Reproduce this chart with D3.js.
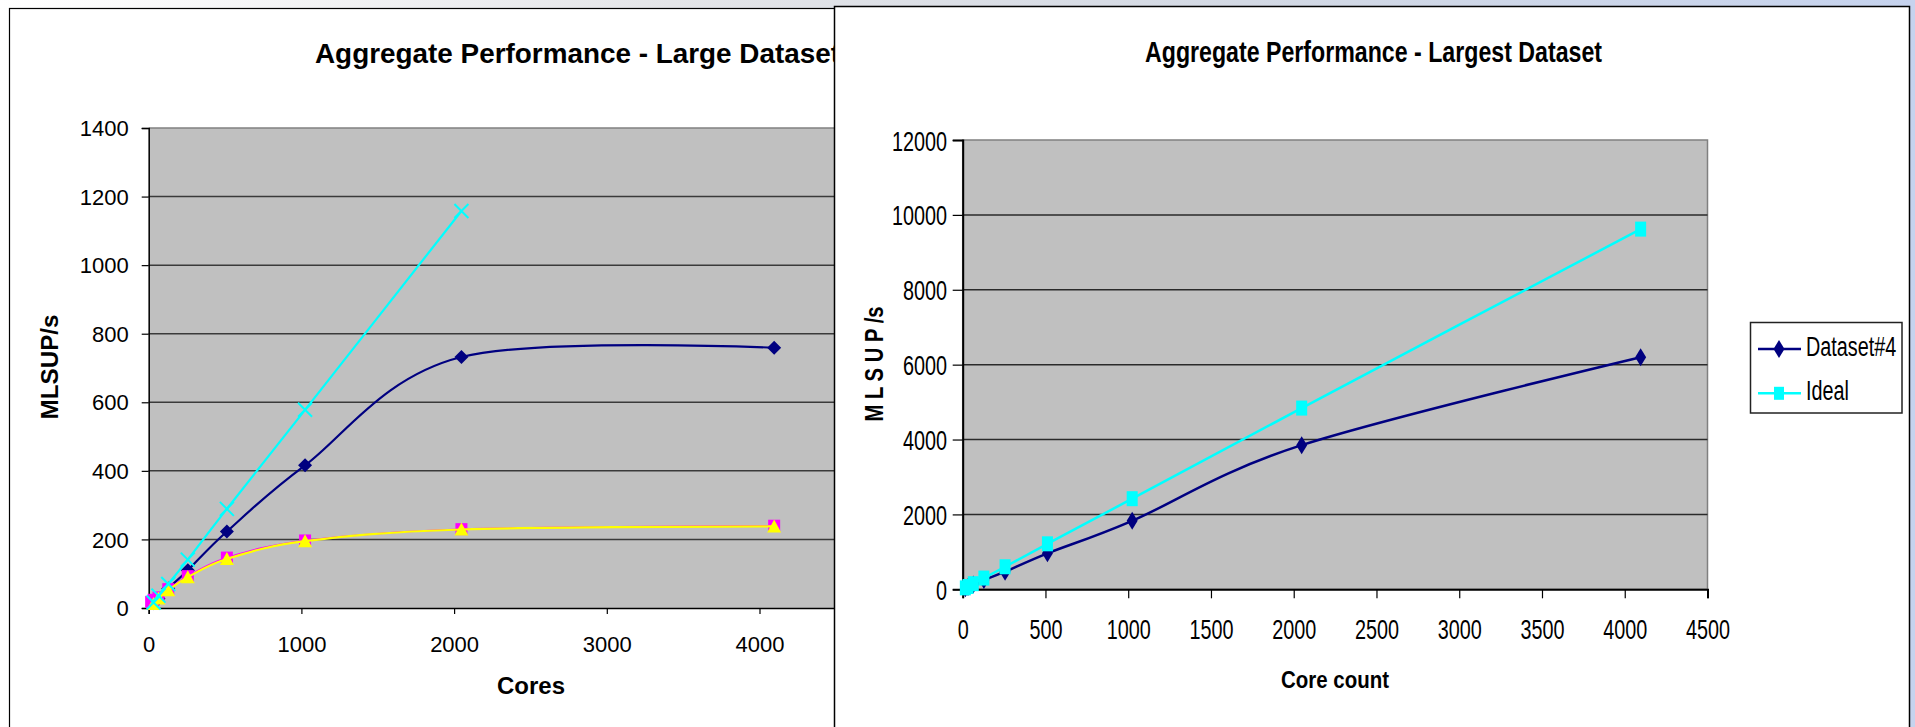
<!DOCTYPE html>
<html>
<head>
<meta charset="utf-8">
<script src="https://cdn.jsdelivr.net/npm/d3@7"></script>
<style>
  html, body { margin: 0; padding: 0; }
  body { width: 1915px; height: 727px; overflow: hidden;
         background: linear-gradient(to right, #ffffff 0%, #e4e5e8 35%, #d3d9e4 65%, #c6d3ee 100%); }
  svg { display: block; }
  text { font-family: "Liberation Sans", Arial, Helvetica, sans-serif; fill: #000; }
</style>
</head>
<body>
<svg id="chart" width="1915" height="727"></svg>
<script>
// ---------------- DATA ----------------
// Left chart: Aggregate Performance - Large Dataset
const leftTitle = "Aggregate Performance - Large Dataset";
const leftXLabel = "Cores";
const leftYLabel = "MLSUP/s";
const leftXTicks = [0, 1000, 2000, 3000, 4000];
const leftYTicks = [0, 200, 400, 600, 800, 1000, 1200, 1400];

const navyCores   = [32, 64, 128, 256, 512, 1024, 2048, 4096];
const navyValues  = [14, 28, 57, 110, 223, 416, 732, 759];

const magentaCores  = [16, 32, 64, 128, 256, 512, 1024, 2048, 4096];
const magentaValues = [18, 24, 31, 55, 93, 147, 197, 230, 240];

const yellowCores  = [32, 64, 128, 256, 512, 1024, 2048, 4096];
const yellowValues = [12, 28, 52, 90, 143, 195, 229, 238];

const cyanCores  = [32, 64, 128, 256, 512, 1024, 2048];
const cyanValues = [16, 36, 70, 141, 289, 578, 1158];

// Right chart: Aggregate Performance - Largest Dataset
const rightTitle = "Aggregate Performance - Largest Dataset";
const rightXLabel = "Core count";
const rightYLabel = "M L S U P /s";
const rightXTicks = [0, 500, 1000, 1500, 2000, 2500, 3000, 3500, 4000, 4500];
const rightYTicks = [0, 2000, 4000, 6000, 8000, 10000, 12000];
const rightSeriesNames = ["Dataset#4", "Ideal"];
const rightCores    = [16, 32, 64, 128, 256, 512, 1024, 2048, 4096];
const dataset4Values = [30, 60, 125, 248, 470, 960, 1830, 3850, 6200];
const idealValues    = [38, 75, 150, 300, 602, 1215, 2420, 4840, 9620];

// ---------------- DRAW ----------------
const svg = d3.select("#chart");
const NAVY = "#000080", CYAN = "#00ffff", YELLOW = "#ffff00", MAGENTA = "#ff00ff";
const smooth = d3.curveCardinal.tension(0);

function diamond(w, h) { return `M0,${-h}L${w},0L0,${h}L${-w},0Z`; }

// ===== LEFT PANEL =====
const L = svg.append("g");
L.append("rect").attr("x", 9.5).attr("y", 8.5).attr("width", 1100).attr("height", 760)
  .attr("fill", "#fff").attr("stroke", "#000").attr("stroke-width", 1.2);

const xL = d3.scaleLinear().domain([0, 5000]).range([148.7, 912.2]);
const yL = d3.scaleLinear().domain([0, 1400]).range([608, 128]);

L.append("rect").attr("x", xL(0)).attr("y", yL(1400))
  .attr("width", xL(5000) - xL(0)).attr("height", yL(0) - yL(1400)).attr("fill", "#c0c0c0");

// gridlines
L.append("g").selectAll("line").data(leftYTicks.filter(d => d > 0)).join("line")
  .attr("x1", xL(0)).attr("x2", xL(5000)).attr("y1", d => yL(d)).attr("y2", d => yL(d))
  .attr("stroke", d => d === 1400 ? "#808080" : "#3a3a3a").attr("stroke-width", 1.5);

// axes
const axL = L.append("g").attr("transform", `translate(${xL(0)},0)`)
  .call(d3.axisLeft(yL).tickValues(leftYTicks).tickSize(7).tickPadding(13).tickFormat(d3.format("d")));
axL.selectAll("text").attr("font-size", 22).attr("dy", null).attr("y", 7.7);
const axLB = L.append("g").attr("transform", `translate(0,${yL(0)})`)
  .call(d3.axisBottom(xL).tickValues(leftXTicks).tickSize(6).tickFormat(d3.format("d")));
axLB.selectAll("text").attr("font-size", 22).attr("dy", null).attr("y", 43.5);
[axL, axLB].forEach(a => {
  a.select(".domain").attr("stroke", "#000").attr("stroke-width", 1.5);
  a.selectAll(".tick line").attr("stroke", "#000").attr("stroke-width", 1.2);
  a.selectAll("text").attr("font-family", "Liberation Sans, Arial, sans-serif").attr("fill", "#000");
});

// series lines (navy, magenta, yellow, cyan order)
function lineL(cores, vals, color, w) {
  const pts = cores.map((c, i) => [c, vals[i]]);
  L.append("path").datum(pts)
    .attr("d", d3.line().x(d => xL(d[0])).y(d => yL(d[1])).curve(smooth))
    .attr("fill", "none").attr("stroke", color).attr("stroke-width", w);
  return pts;
}
const navyPts = lineL(navyCores, navyValues, NAVY, 2.2);
L.append("g").selectAll("path").data(navyPts).join("path")
  .attr("transform", d => `translate(${xL(d[0])},${yL(d[1])})`).attr("d", diamond(7, 7)).attr("fill", NAVY);

const magPts = lineL(magentaCores, magentaValues, MAGENTA, 1.5);
L.append("g").selectAll("rect").data(magPts).join("rect")
  .attr("x", d => xL(d[0]) - 6).attr("y", d => yL(d[1]) - 6).attr("width", 12).attr("height", 12)
  .attr("fill", MAGENTA);

const yelPts = lineL(yellowCores, yellowValues, YELLOW, 2.2);
L.append("g").selectAll("path").data(yelPts).join("path")
  .attr("transform", d => `translate(${xL(d[0])},${yL(d[1])})`)
  .attr("d", "M0,-7L7,6L-7,6Z").attr("fill", YELLOW);

const cyPts = lineL(cyanCores, cyanValues, CYAN, 2.2);
L.append("g").selectAll("path").data(cyPts).join("path")
  .attr("transform", d => `translate(${xL(d[0])},${yL(d[1])})`)
  .attr("d", "M-7,-7L7,7M-7,7L7,-7").attr("stroke", CYAN).attr("stroke-width", 2).attr("fill", "none");

// titles and labels
L.append("text").attr("x", 315).attr("y", 62.7).attr("font-size", 28).attr("font-weight", "bold")
  .attr("textLength", 525).attr("lengthAdjust", "spacingAndGlyphs").text(leftTitle);
L.append("text").attr("x", 531).attr("y", 694).attr("text-anchor", "middle")
  .attr("font-size", 24).attr("font-weight", "bold").text(leftXLabel);
L.append("text").attr("transform", "translate(58,367) rotate(-90)").attr("text-anchor", "middle")
  .attr("font-size", 24).attr("font-weight", "bold").attr("textLength", 105)
  .attr("lengthAdjust", "spacingAndGlyphs").text(leftYLabel);

// ===== RIGHT PANEL =====
const R = svg.append("g");
R.append("rect").attr("x", 834.5).attr("y", 6.5).attr("width", 1075).attr("height", 760)
  .attr("fill", "#fff").attr("stroke", "#000").attr("stroke-width", 1.5);

const SX = 0.72;
const xR = d3.scaleLinear().domain([0, 4500]).range([962.7, 1707.5]);
const yR = d3.scaleLinear().domain([0, 12000]).range([589.3, 140]);

R.append("rect").attr("x", xR(0)).attr("y", yR(12000))
  .attr("width", xR(4500) - xR(0)).attr("height", yR(0) - yR(12000))
  .attr("fill", "#c0c0c0").attr("stroke", "#808080").attr("stroke-width", 1.5);

R.append("g").selectAll("line").data(rightYTicks.filter(d => d > 0 && d < 12000)).join("line")
  .attr("x1", xR(0)).attr("x2", xR(4500)).attr("y1", d => yR(d)).attr("y2", d => yR(d))
  .attr("stroke", "#2a2a2a").attr("stroke-width", 1.5);

const axR = R.append("g").attr("transform", `translate(${xR(0)},0)`)
  .call(d3.axisLeft(yR).tickValues(rightYTicks).tickSize(10).tickFormat(d3.format("d")));
axR.selectAll("text").attr("font-size", 27.5).attr("dy", null).attr("y", 10)
  .attr("x", -15.7 / SX).attr("transform", `scale(${SX},1)`);
const axRB = R.append("g").attr("transform", `translate(0,${yR(0)})`)
  .call(d3.axisBottom(xR).tickValues(rightXTicks).tickSize(9).tickFormat(d3.format("d")));
axRB.selectAll("text").attr("font-size", 27.5).attr("dy", null).attr("y", 50)
  .attr("transform", `scale(${SX},1)`);
[axR, axRB].forEach(a => {
  a.select(".domain").attr("stroke", "#000").attr("stroke-width", 2);
  a.selectAll(".tick line").attr("stroke", "#000").attr("stroke-width", 1.2);
  a.selectAll("text").attr("font-family", "Liberation Sans, Arial, sans-serif").attr("fill", "#000");
});

function lineR(vals, color) {
  const pts = rightCores.map((c, i) => [c, vals[i]]);
  R.append("path").datum(pts)
    .attr("d", d3.line().x(d => xR(d[0])).y(d => yR(d[1])).curve(smooth))
    .attr("fill", "none").attr("stroke", color).attr("stroke-width", 2.5);
  return pts;
}
const d4Pts = lineR(dataset4Values, NAVY);
R.append("g").selectAll("path").data(d4Pts).join("path")
  .attr("transform", d => `translate(${xR(d[0])},${yR(d[1])})`).attr("d", diamond(5.5, 9)).attr("fill", NAVY);
const idPts = lineR(idealValues, CYAN);
R.append("g").selectAll("rect").data(idPts).join("rect")
  .attr("x", d => xR(d[0]) - 5.5).attr("y", d => yR(d[1]) - 7.5).attr("width", 11).attr("height", 15)
  .attr("fill", CYAN);

R.append("text").attr("x", 1373.5).attr("y", 62.3).attr("text-anchor", "middle")
  .attr("font-size", 29.5).attr("font-weight", "bold")
  .attr("textLength", 457).attr("lengthAdjust", "spacingAndGlyphs").text(rightTitle);
R.append("text").attr("x", 1335).attr("y", 688).attr("text-anchor", "middle")
  .attr("font-size", 24.5).attr("font-weight", "bold")
  .attr("textLength", 108).attr("lengthAdjust", "spacingAndGlyphs").text(rightXLabel);
R.append("text").attr("transform", "translate(883,364) rotate(-90)").attr("text-anchor", "middle")
  .attr("font-size", 25).attr("font-weight", "bold")
  .attr("textLength", 115).attr("lengthAdjust", "spacingAndGlyphs").text(rightYLabel);

// legend
const lg = R.append("g");
lg.append("rect").attr("x", 1750.5).attr("y", 322.5).attr("width", 151.5).attr("height", 90.5)
  .attr("fill", "#fff").attr("stroke", "#222").attr("stroke-width", 1.5);
const legendY = [349, 393.3];
const legendColors = [NAVY, CYAN];
rightSeriesNames.forEach((name, i) => {
  const y = legendY[i];
  lg.append("line").attr("x1", 1758).attr("x2", 1801).attr("y1", y).attr("y2", y)
    .attr("stroke", legendColors[i]).attr("stroke-width", 2.5);
  if (i === 0) {
    lg.append("path").attr("transform", `translate(1779,${y})`).attr("d", diamond(5.5, 9)).attr("fill", NAVY);
  } else {
    lg.append("rect").attr("x", 1774).attr("y", y - 6.5).attr("width", 10).attr("height", 13).attr("fill", CYAN);
  }
  lg.append("text").attr("transform", `translate(1806,${y + 6.5}) scale(${SX},1)`)
    .attr("font-size", 27.5).text(name);
});
</script>
</body>
</html>
